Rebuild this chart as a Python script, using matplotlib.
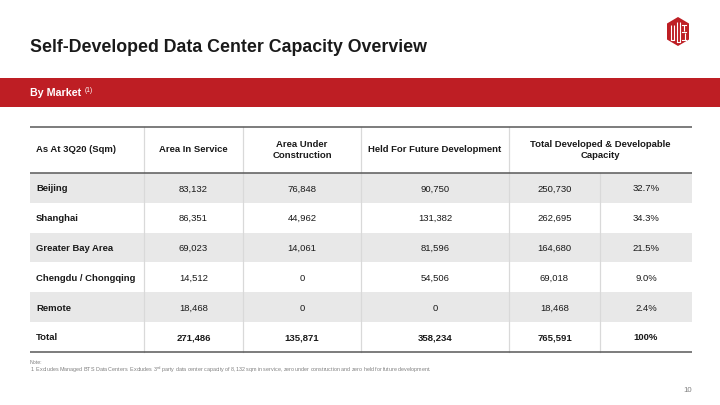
import matplotlib
matplotlib.use("Agg")
import matplotlib.pyplot as plt
from matplotlib.patches import Rectangle, Polygon

plt.rcParams['font.family'] = ['Liberation Sans', 'DejaVu Sans']

# ---- data ----
title = "Self-Developed Data Center Capacity Overview"
section = "By Market"
header = ["As At 3Q20 (Sqm)", "Area In Service", "Area Under\nConstruction",
          "Held For Future Development", "Total Developed & Developable\nCapacity"]
markets = ["Beijing", "Shanghai", "Greater Bay Area", "Chengdu / Chongqing", "Remote"]
area_in_service = [83132, 86351, 69023, 14512, 18468]
area_under_construction = [76848, 44962, 14061, 0, 0]
held_future = [90750, 131382, 81596, 54506, 0]
total_capacity = [250730, 262695, 164680, 69018, 18468]
share_pct = [32.7, 34.3, 21.5, 9.0, 2.4]
total_label = "Total"
totals = [271486, 135871, 358234, 765591]
total_share = "100%"
note_lines = ["Note:",
              "1. Excludes Managed BTS Data Centers. Excludes 3$^{\\mathrm{rd}}$ party data center capacity of 8,132 sqm in service, zero under construction and zero held for future development."]
page_no = "10"

RED = "#BE1E24"
TXT = "#1A1A1A"
GREY_ROW = "#E8E8E8"
VLINE = "#D9D9D9"
HLINE = "#595959"

fig = plt.figure(figsize=(7.2, 4.05), dpi=100)
ax = fig.add_axes([0, 0, 1, 1])
ax.set_xlim(0, 720)
ax.set_ylim(405, 0)
ax.axis("off")

# title
ax.text(30, 48, title, fontsize=12.8, fontweight="bold", color=TXT, va="center", ha="left")

# logo
hexa = Polygon([(678, 17), (689, 23.5), (689, 39.5), (678, 46), (667, 39.5), (667, 23.5)],
               closed=True, facecolor=RED, edgecolor="none")
ax.add_patch(hexa)
for x0, y0, y1 in [(670.5, 25, 40), (673.5, 25, 40), (677, 22, 42), (680, 22, 42), (684, 25, 31), (684.5, 33, 40)]:
    ax.plot([x0, x0], [y0, y1], color="white", lw=0.8, solid_capstyle="butt")
ax.plot([670.5, 673.5], [40, 40], color="white", lw=0.8)
ax.plot([677, 680], [42, 42], color="white", lw=0.8)
ax.plot([682, 686], [25, 25], color="white", lw=0.8)
ax.plot([682, 686], [32, 32], color="white", lw=0.8)
ax.plot([682, 686], [40, 40], color="white", lw=0.8)

# red band
ax.add_patch(Rectangle((0, 77.5), 720, 29, facecolor=RED, edgecolor="none"))
ax.text(30, 92.5, section, fontsize=7.7, fontweight="bold", color="white", va="center", ha="left")
ax.text(84.5, 90, "(1)", fontsize=4.8, color="white", va="center", ha="left")

# table geometry
col_x = [30, 144, 243, 361, 509, 600, 692]
top = 127
head_bot = 173
row_h = 29.8
n_rows = len(markets) + 1
bottom = head_bot + row_h * n_rows

# shaded rows
for i in range(len(markets)):
    if i % 2 == 0:
        ax.add_patch(Rectangle((col_x[0], head_bot + i * row_h), col_x[-1] - col_x[0], row_h,
                               facecolor=GREY_ROW, edgecolor="none"))

# vertical lines
for x in col_x[1:5]:
    ax.plot([x, x], [top, bottom], color=VLINE, lw=0.9)
ax.plot([col_x[5], col_x[5]], [head_bot, bottom], color=VLINE, lw=0.9)

# horizontal lines
for y in [top, head_bot, bottom]:
    ax.plot([col_x[0], col_x[-1]], [y, y], color=HLINE, lw=1.1, solid_capstyle="butt")

FS = 6.8
# header
hy = (top + head_bot) / 2
ax.text(36, hy, header[0], fontsize=FS, fontweight="bold", color=TXT, va="center", ha="left")
centers = [(col_x[i] + col_x[i + 1]) / 2 for i in range(6)]
for j, h in enumerate(header[1:4]):
    ax.text(centers[j + 1], hy, h, fontsize=FS, fontweight="bold", color=TXT,
            va="center", ha="center", linespacing=1.25)
ax.text((col_x[4] + col_x[6]) / 2, hy, header[4], fontsize=FS, fontweight="bold", color=TXT,
        va="center", ha="center", linespacing=1.25)

def fmt(v):
    return f"{v:,}"

for i, m in enumerate(markets):
    y = head_bot + (i + 0.5) * row_h + 1
    ax.text(36, y, m, fontsize=FS, fontweight="bold", color=TXT, va="center", ha="left")
    vals = [fmt(area_in_service[i]), fmt(area_under_construction[i]), fmt(held_future[i]),
            fmt(total_capacity[i]), f"{share_pct[i]:.1f}%"]
    for j, v in enumerate(vals):
        ax.text(centers[j + 1], y, v, fontsize=FS, color=TXT, va="center", ha="center")

y = head_bot + (len(markets) + 0.5) * row_h + 1
ax.text(36, y, total_label, fontsize=FS, fontweight="bold", color=TXT, va="center", ha="left")
for j, v in enumerate([fmt(x) for x in totals] + [total_share]):
    ax.text(centers[j + 1], y, v, fontsize=FS, fontweight="bold", color=TXT, va="center", ha="center")

# notes
ax.text(30, 362, note_lines[0], fontsize=3.8, color="#808080", va="center", ha="left")
ax.text(30, 369.5, note_lines[1], fontsize=3.85, color="#808080", va="center", ha="left")

# page number
ax.text(692, 390, page_no, fontsize=5.6, color="#808080", va="center", ha="right")

fig.savefig("out.png", dpi=100)
